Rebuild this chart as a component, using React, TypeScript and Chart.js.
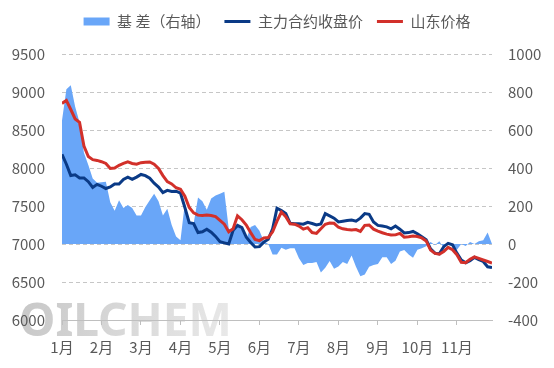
import React, { useEffect, useRef } from 'react';
import { Chart, registerables } from 'chart.js';

Chart.register(...registerables);

// Month labels and the index of the first data point of each month
const monthLabels = ['1月', '2月', '3月', '4月', '5月', '6月', '7月', '8月', '9月', '10月', '11月'];
const monthStartIndex = [0, 9, 18, 27, 36, 45, 54, 63, 72, 81, 90];

// 基差（右轴）
const basis = [
  650, 815, 835, 722, 640, 480, 416, 345, 322, 325,
  328, 220, 175, 230, 190, 205, 190, 150, 150, 195,
  230, 265, 225, 150, 185, 100, 40, 20, 214, 110,
  108, 245, 225, 180, 240, 255, 265, 275, 80, 70,
  100, 72, 25, 90, 100, 70, 15, 0, -55, -55,
  -20, -30, -23, -23, -75, -111, -100, -100, -95, -150,
  -125, -90, -130, -119, -95, -105, -60, -120, -170, -160,
  -120, -110, -105, -70, -70, -105, -88, -40, -32, -55,
  -72, -30, -22, -12, 10, -5, 15, -20, 2, -5,
  -30, 0, -10, 10, 0, 15, 20, 60, 0,
];

// 主力合约收盘价
const futuresClose = [
  8180, 8050, 7900, 7910, 7870, 7870, 7820, 7745, 7785, 7760,
  7730, 7750, 7790, 7790, 7850, 7880, 7850, 7880, 7915, 7900,
  7865, 7800, 7750, 7675, 7705, 7690, 7695, 7670, 7480, 7280,
  7270, 7150, 7160, 7195, 7155, 7100, 7030, 7015, 7000, 7180,
  7245, 7215, 7090, 7020, 6960, 6965, 7025, 7062, 7200, 7470,
  7440, 7400, 7272, 7265, 7265, 7260, 7285, 7270, 7250, 7265,
  7400, 7370, 7340, 7290, 7300, 7310, 7316, 7300, 7340, 7400,
  7390, 7290, 7245, 7237, 7225, 7200, 7237, 7195, 7145, 7150,
  7165, 7135, 7095, 7055, 6935, 6880, 6870, 6965, 7009, 6990,
  6880, 6790, 6754, 6780, 6825, 6795, 6770, 6700, 6690,
];

// 山东价格
const shandongPrice = [
  8850, 8890, 8770, 8645, 8600, 8290, 8150, 8110, 8100, 8083,
  8060, 7995, 8000, 8035, 8060, 8080, 8060, 8050, 8070, 8075,
  8080, 8050, 7995, 7900, 7820, 7790, 7740, 7720, 7630, 7480,
  7410, 7380, 7375, 7380, 7375, 7360, 7310, 7260, 7160, 7200,
  7370, 7320, 7250, 7150, 7060, 7045, 7080, 7085, 7160, 7300,
  7420, 7360, 7265, 7260, 7235, 7195, 7215, 7150, 7140, 7200,
  7260, 7275, 7272, 7220, 7200, 7190, 7185, 7190, 7165, 7245,
  7250, 7195, 7170, 7148, 7130, 7118, 7120, 7140, 7090, 7095,
  7105, 7098, 7080, 7040, 6920, 6877, 6865, 6900, 6955, 6925,
  6860, 6760, 6755, 6800, 6830, 6810, 6790, 6770, 6750,
];

const FONT = '"Noto Sans CJK SC", "Noto Sans", sans-serif';
const TEXT = '#595959';

const legendHeightPlugin = {
  id: 'legendHeight',
  beforeLayout(chart: any) {
    const lg = chart.legend;
    if (lg && !lg._patchedFit) {
      const orig = lg.fit.bind(lg);
      lg.fit = function () {
        orig();
        this.height = 54;
      };
      lg._patchedFit = true;
    }
  },
};

const watermarkPlugin = {
  id: 'watermark',
  beforeDraw(chart: any) {
    const ctx = chart.ctx;
    ctx.save();
    ctx.font = 'bold 46px "Noto Sans", sans-serif';
    const g = ctx.createLinearGradient(20, 300, 225, 340);
    g.addColorStop(0, 'rgba(190,190,190,0.85)');
    g.addColorStop(1, 'rgba(228,228,228,0.85)');
    ctx.fillStyle = g;
    ctx.textBaseline = 'alphabetic';
    ctx.fillText('OILCHEM', 19, 336);
    ctx.restore();
  },
};

export default function App() {
  const ref = useRef<HTMLCanvasElement>(null);

  useEffect(() => {
    document.body.style.margin = '0';
    const toXY = (arr: number[]) => arr.map((v, i) => ({ x: i, y: v }));
    const plain = (v: any) => String(v);
    const chart = new Chart(ref.current as HTMLCanvasElement, {
      type: 'line',
      data: {
        datasets: [
          {
            label: '基 差（右轴）',
            data: toXY(basis),
            yAxisID: 'y1',
            fill: 'origin',
            backgroundColor: '#69a6f8',
            borderColor: '#69a6f8',
            borderWidth: 0,
            pointRadius: 0,
            pointStyle: 'rect',
            tension: 0,
            order: 3,
          },
          {
            label: '主力合约收盘价',
            data: toXY(futuresClose),
            yAxisID: 'y',
            borderColor: '#0a3a86',
            backgroundColor: '#0a3a86',
            borderWidth: 3,
            pointRadius: 0,
            pointStyle: 'line',
            fill: false,
            tension: 0,
            order: 2,
          },
          {
            label: '山东价格',
            data: toXY(shandongPrice),
            yAxisID: 'y',
            borderColor: '#d2302a',
            backgroundColor: '#d2302a',
            borderWidth: 3,
            pointRadius: 0,
            pointStyle: 'line',
            fill: false,
            tension: 0,
            order: 1,
          },
        ],
      },
      options: {
        animation: false,
        responsive: false,
        maintainAspectRatio: false,
        layout: { padding: 0 },
        plugins: {
          tooltip: { enabled: false },
          legend: {
            position: 'top',
            labels: {
              usePointStyle: true,
              pointStyleWidth: 26,
              boxHeight: 8,
              padding: 14,
              color: TEXT,
              font: { family: FONT, size: 15 },
              sort: (a: any, b: any) => a.datasetIndex - b.datasetIndex,
            },
          },
        },
        scales: {
          x: {
            type: 'linear',
            min: 0,
            max: basis.length - 1,
            afterBuildTicks: (scale: any) => {
              scale.ticks = monthStartIndex.map((v) => ({ value: v }));
            },
            afterFit: (scale: any) => {
              scale.height = 48;
            },
            ticks: {
              autoSkip: false,
              maxRotation: 0,
              padding: 13,
              color: TEXT,
              font: { family: FONT, size: 15 },
              callback: (_v: any, i: number) => monthLabels[i] ?? '',
            },
            grid: { drawOnChartArea: false, drawTicks: true, tickLength: 5, color: '#bfbfbf' },
            border: { display: true, color: '#bfbfbf', width: 1 },
          },
          y: {
            position: 'left',
            min: 6000,
            max: 9500,
            afterFit: (scale: any) => {
              scale.width = 62;
            },
            ticks: {
              stepSize: 500,
              padding: 17,
              color: TEXT,
              font: { family: FONT, size: 15 },
              callback: plain,
            },
            grid: {
              drawTicks: false,
              color: (c: any) => (c.tick && c.tick.value === 6000 ? 'rgba(0,0,0,0)' : '#c6c6c6'),
              lineWidth: 1,
            },
            border: { display: false, dash: [4, 3] },
          },
          y1: {
            position: 'right',
            min: -400,
            max: 1000,
            afterFit: (scale: any) => {
              scale.width = 62;
            },
            ticks: {
              stepSize: 200,
              padding: 16,
              color: TEXT,
              font: { family: FONT, size: 15 },
              callback: plain,
            },
            grid: { drawOnChartArea: false, drawTicks: false },
            border: { display: false },
          },
        },
      },
      plugins: [legendHeightPlugin, watermarkPlugin],
    } as any);
    return () => chart.destroy();
  }, []);

  return (
    <div style={{ width: 554, height: 368, background: '#fff' }}>
      <canvas ref={ref} width={554} height={368} />
    </div>
  );
}
